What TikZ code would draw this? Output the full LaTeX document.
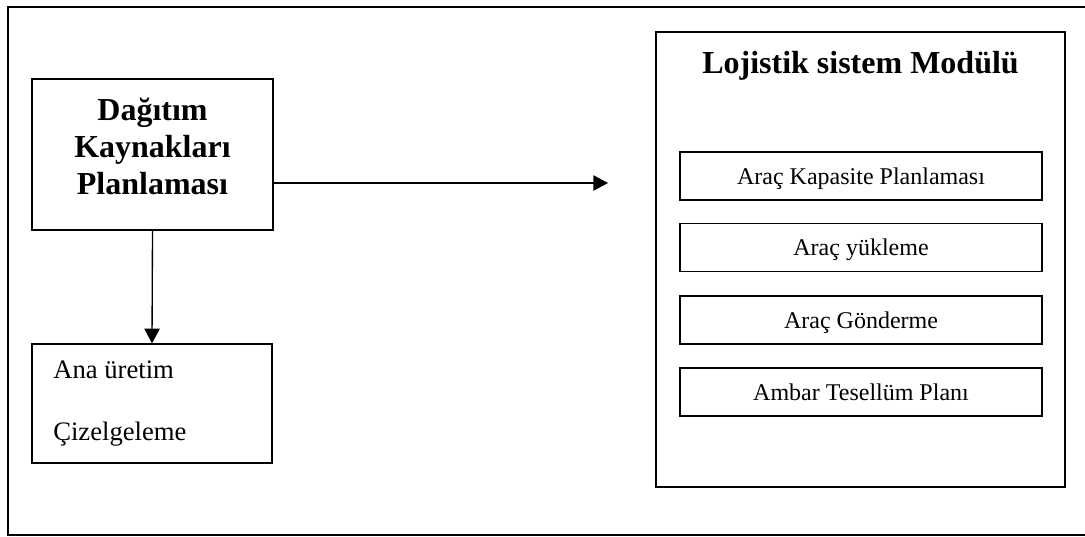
\documentclass[tikz,border=0pt]{standalone}
\usepackage{fontspec}
\setmainfont{Liberation Serif}
\usetikzlibrary{arrows.meta}
\begin{document}
\begin{tikzpicture}[x=0.75pt,y=-0.75pt,
  frame/.style={draw,line width=1pt,inner sep=0pt},
  subbox/.style={frame,minimum width=271.5pt,minimum height=36pt,
    font=\fontsize{18}{21}\selectfont,text height=14pt,text depth=2pt},
  boldtext/.style={font=\fontsize{24}{27.75}\selectfont\bfseries,inner sep=0pt},
  plaintext/.style={font=\fontsize{20}{24}\selectfont,inner sep=0pt},
  arrow/.style={line width=1pt,-{Triangle[length=11pt,width=11.5pt]}}]
\useasboundingbox (0,0) rectangle (1085,536);
% outer frame, open on the right where the page ends
\draw[line width=0.8pt] (1085,7) -- (8,7) -- (8,535) -- (1085,535);

% distribution resource planning
\node[frame,minimum width=180.75pt,minimum height=113.25pt] (dag) at (152.5,154.5) {};
\node[boldtext,align=center] (dagtext) at (152.5,146) {Dağıtım\\Kaynakları\\Planlaması};

% master production scheduling
\node[frame,minimum width=180pt,minimum height=89.25pt] (ana) at (152,403.5) {};
\node[plaintext,anchor=base west] (anatext1) at (53,378) {Ana üretim};
\node[plaintext,anchor=base west] (anatext2) at (53,440) {Çizelgeleme};

% logistics system module
\node[frame,minimum width=306.75pt,minimum height=341.25pt] (loj) at (860.5,259.5) {};
\node[boldtext,anchor=base] (lojtitle) at (860.5,73) {Lojistik sistem Modülü};
\node[subbox] (s1) at (861,176) {Araç Kapasite Planlaması};
\node[subbox] (s2) at (861,247.5) {Araç yükleme};
\node[subbox] (s3) at (861,320) {Araç Gönderme};
\node[subbox] (s4) at (861,392) {Ambar Tesellüm Planı};

% connectors
\coordinate (tip) at (608,183);
\draw[arrow] (dag.east |- tip) -- (tip);
\draw[arrow] (dag.south) -- (ana.north);
\end{tikzpicture}
\end{document}
